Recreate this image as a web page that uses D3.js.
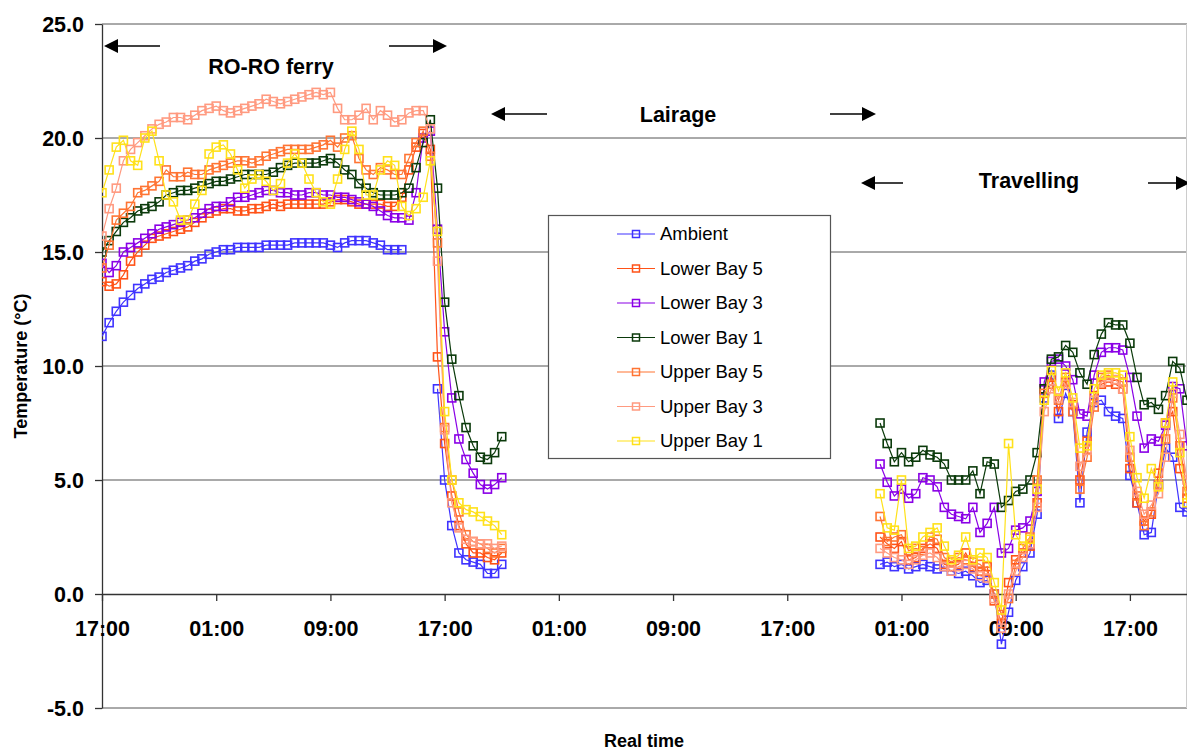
<!DOCTYPE html>
<meta charset="utf-8">
<style>
body { margin: 0; background: #fff; }
text { font-family: Arial, "Liberation Sans", sans-serif; fill: #000; }
.grid line { stroke: #555; stroke-width: 1px; }
.axis path, .axis line { stroke: #333; stroke-width: 1.3px; }
.tick-label { font-size: 21.5px; font-weight: bold; }
.note { font-size: 21.5px; font-weight: bold; }
.title { font-size: 18px; font-weight: bold; }
.legend text { font-size: 18.5px; }
.arrow { stroke: #000; stroke-width: 1.5px; }
</style>
<body>
<script src="https://cdn.jsdelivr.net/npm/d3@7"></script>
<script>
var width = 1187,
    height = 753;

var plot = {left: 102, right: 1187, top: 24, bottom: 708};

// time in hours after the first 17:00
var hours1 = d3.range(0, 28.01, 0.5);
var hours2 = d3.range(54.5, 76.01, 0.5);

var tickHours = [0, 8, 16, 24, 32, 40, 48, 56, 64, 72];
var tickLabels = ["17:00", "01:00", "09:00", "17:00", "01:00", "09:00", "17:00", "01:00", "09:00", "17:00"];
var yTicks = [-5, 0, 5, 10, 15, 20, 25];

var seriesNames = ["Ambient", "Lower Bay 5", "Lower Bay 3", "Lower Bay 1", "Upper Bay 5", "Upper Bay 3", "Upper Bay 1"];
var seriesColors = ["#3f33ff", "#ff5217", "#8a00e6", "#0b3a0b", "#ff7433", "#ff9a80", "#ffe11a"];

// RO-RO ferry leg and the drop after unloading
var ambient1 = [11.3, 11.9, 12.4, 12.8, 13.1, 13.4, 13.6, 13.8, 13.9, 14.1, 14.2, 14.3, 14.4, 14.6, 14.7, 14.9,
  15.0, 15.1, 15.1, 15.2, 15.2, 15.2, 15.2, 15.3, 15.3, 15.3, 15.3, 15.4, 15.4, 15.4, 15.4, 15.4, 15.3, 15.2,
  15.4, 15.5, 15.5, 15.5, 15.4, 15.3, 15.1, 15.1, 15.1, null, null, null, null, 9.0, 5.0, 3.0, 1.8, 1.5, 1.4,
  1.3, 0.9, 0.9, 1.3];
var lowerBay5_1 = [13.7, 13.5, 13.6, 14.0, 14.6, 15.0, 15.3, 15.6, 15.7, 15.8, 15.9, 16.0, 16.1, 16.3, 16.5, 16.7,
  16.8, 16.9, 16.9, 16.8, 16.8, 16.9, 16.9, 17.0, 17.1, 17.0, 17.1, 17.1, 17.1, 17.1, 17.1, 17.1, 17.2, 17.3,
  17.3, 17.2, 17.1, 17.1, 17.1, 17.1, 17.0, 17.0, 17.4, 18.6, 19.6, 20.2, 19.5, 10.4, 6.6, 4.3, 3.0, 2.2, 1.8,
  1.8, 1.6, 1.5, 1.8];
var lowerBay3_1 = [14.5, 14.1, 14.4, 15.0, 15.2, 15.4, 15.6, 15.8, 16.0, 16.1, 16.2, 16.3, 16.4, 16.5, 16.7, 16.9,
  17.0, 17.0, 17.2, 17.4, 17.4, 17.5, 17.6, 17.7, 17.7, 17.6, 17.6, 17.5, 17.5, 17.6, 17.6, 17.5, 17.5, 17.4,
  17.4, 17.3, 17.2, 17.1, 17.0, 16.8, 16.6, 16.5, 16.5, 16.4, 17.6, 20.0, 20.3, 16.0, 11.5, 8.6, 6.8, 5.9, 5.3,
  4.8, 4.6, 4.8, 5.1];
var lowerBay1_1 = [15.0, 15.5, 15.9, 16.3, 16.5, 16.8, 16.9, 17.0, 17.2, 17.5, 17.6, 17.7, 17.7, 17.8, 17.9, 18.0,
  18.1, 18.1, 18.2, 18.3, 18.4, 18.4, 18.4, 18.4, 18.5, 18.7, 18.8, 18.9, 18.9, 18.9, 18.9, 19.0, 19.1, 18.9,
  18.6, 18.4, 18.0, 17.8, 17.6, 17.5, 17.5, 17.5, 17.6, 17.8, 18.7, 19.8, 20.8, 17.8, 12.8, 10.3, 8.7, 7.3, 6.5,
  6.0, 5.9, 6.2, 6.9];
var upperBay5_1 = [14.3, 15.3, 16.4, 16.7, 17.0, 17.6, 17.7, 17.9, 18.1, 18.6, 18.3, 18.3, 18.5, 18.4, 18.4, 18.6,
  18.7, 18.8, 18.9, 19.0, 19.0, 18.9, 19.0, 19.2, 19.3, 19.4, 19.5, 19.5, 19.5, 19.5, 19.6, 19.7, 19.9, 19.6,
  20.0, 20.1, 19.1, 18.6, 18.4, 18.7, 18.6, 18.4, 18.4, 19.1, 19.8, 20.3, 19.2, 15.4, 7.3, 5.0, 3.6, 2.6, 2.3,
  2.2, 2.0, 1.8, 2.0];
var upperBay3_1 = [15.7, 16.9, 17.8, 19.0, 19.5, 19.8, 20.1, 20.4, 20.6, 20.7, 20.9, 20.9, 20.8, 21.0, 21.2, 21.3,
  21.4, 21.2, 21.1, 21.2, 21.3, 21.4, 21.5, 21.7, 21.6, 21.5, 21.6, 21.7, 21.8, 21.9, 22.0, 21.9, 22.0, 21.3,
  20.8, 20.8, 21.0, 21.3, 20.8, 21.2, 21.0, 20.7, 20.8, 21.1, 21.2, 21.2, 20.4, 14.6, 7.2, 4.0, 2.9, 2.4, 2.3,
  2.2, 2.2, 2.0, 2.1];
var upperBay1_1 = [17.6, 18.6, 19.6, 19.9, 19.0, 18.8, 20.0, 20.3, 19.0, 17.5, 17.2, 16.4, 16.4, 17.1, 17.7, 19.3,
  19.6, 19.7, 19.3, 18.6, 17.8, 18.2, 18.4, 18.1, 17.7, 18.0, 18.9, 19.3, 18.9, 18.2, 17.6, 17.2, 17.1, 18.2,
  19.5, 20.3, 19.5, 17.5, 17.5, 18.6, 19.0, 18.8, 17.0, 16.6, 16.9, 17.4, 19.0, 15.9, 8.0, 5.0, 4.0, 3.7, 3.6,
  3.4, 3.2, 3.0, 2.6];

// travelling leg
var ambient2 = [1.3, 1.4, 1.2, 1.3, 1.1, 1.2, 1.3, 1.2, 1.1, 1.2, 1.0, 0.9, 1.0, 0.8, 0.5, 0.6, 0.0, -2.2, -0.8,
  0.6, 1.2, 1.8, 3.5, 8.6, 9.6, 7.7, 8.8, 8.0, 4.0, 7.1, 8.4, 8.5, 8.0, 7.8, 7.7, 5.2, 4.0, 2.6, 2.7, 4.8, 6.4,
  6.0, 3.8, 3.6];
var lowerBay5_2 = [2.5, 2.2, 2.0, 2.3, 1.5, 1.6, 2.0, 2.2, 2.0, 1.3, 1.2, 1.3, 1.8, 1.2, 1.0, 1.2, -0.3, -1.3, 0.5,
  1.5, 1.8, 2.1, 4.0, 9.0, 9.5, 8.0, 9.3, 8.3, 5.0, 6.7, 8.7, 9.2, 9.3, 9.2, 9.0, 5.5, 4.0, 3.2, 3.5, 5.3, 7.5,
  8.0, 5.5, 4.2];
var lowerBay3_2 = [5.7, 4.9, 4.3, 4.6, 4.2, 4.4, 5.1, 5.0, 4.7, 3.8, 3.5, 3.4, 3.3, 3.8, 2.7, 3.1, 3.8, 1.8, 2.0,
  2.8, 2.9, 3.2, 4.5, 9.3, 10.2, 10.3, 10.0, 9.4, 7.9, 7.8, 9.6, 10.6, 10.8, 10.8, 10.7, 9.5, 7.8, 6.4, 6.8,
  6.7, 7.4, 9.1, 9.0, 6.5];
var lowerBay1_2 = [7.5, 6.6, 5.8, 6.2, 5.8, 6.0, 6.3, 6.1, 6.0, 5.7, 5.0, 5.0, 5.0, 5.4, 4.4, 5.8, 5.7, 3.8, 4.1,
  4.5, 4.6, 5.0, 6.2, 9.0, 10.3, 10.4, 10.9, 10.6, 9.7, 9.2, 10.5, 11.4, 11.9, 11.8, 11.8, 11.0, 9.5, 8.3, 8.4,
  8.1, 8.7, 10.2, 9.9, 8.5];
var upperBay5_2 = [3.4, 2.3, 2.5, 2.6, 1.9, 2.0, 1.9, 2.5, 2.4, 1.6, 1.4, 1.6, 1.5, 1.4, 1.3, 1.0, 0.0, -0.9, -0.2,
  1.3, 2.0, 2.5, 5.0, 8.8, 9.2, 8.5, 9.5, 8.0, 4.6, 6.0, 8.2, 9.5, 9.6, 9.4, 9.3, 6.0, 4.3, 3.0, 3.6, 4.8, 6.8,
  8.6, 6.5, 4.5];
var upperBay3_2 = [2.0, 1.8, 1.6, 1.5, 1.3, 1.5, 1.7, 1.8, 1.6, 1.2, 1.0, 1.2, 1.3, 1.1, 0.8, 0.7, -0.2, -1.5, 0.0,
  1.0, 1.6, 2.2, 3.8, 8.0, 9.0, 8.6, 9.2, 8.4, 5.6, 6.3, 8.5, 9.3, 9.5, 9.4, 9.0, 6.3, 4.5, 3.5, 3.9, 4.4, 6.0,
  8.8, 7.0, 5.0];
var upperBay1_2 = [4.4, 2.9, 2.8, 5.0, 2.0, 2.1, 2.5, 2.7, 2.9, 2.1, 1.5, 1.7, 2.5, 1.5, 1.8, 1.6, 0.5, -0.7, 6.6,
  2.6, 2.1, 2.4, 4.6, 8.5, 9.8, 8.9, 9.7, 8.6, 6.4, 6.5, 9.0, 9.6, 9.7, 9.7, 9.6, 6.9, 5.1, 4.2, 5.5, 4.7, 7.5,
  9.3, 6.2, 4.0];

var firstLeg = [ambient1, lowerBay5_1, lowerBay3_1, lowerBay1_1, upperBay5_1, upperBay3_1, upperBay1_1];
var secondLeg = [ambient2, lowerBay5_2, lowerBay3_2, lowerBay1_2, upperBay5_2, upperBay3_2, upperBay1_2];

var x = d3.scaleLinear().domain([0, 76]).range([plot.left, plot.right]);
var y = d3.scaleLinear().domain([-5, 25]).range([plot.bottom, plot.top]);

var svg = d3.select("body").append("svg")
    .attr("width", width)
    .attr("height", height);

svg.append("defs").append("clipPath")
    .attr("id", "clip")
  .append("rect")
    .attr("x", plot.left)
    .attr("y", plot.top - 6)
    .attr("width", plot.right - plot.left)
    .attr("height", plot.bottom - plot.top + 12);

// horizontal gridlines
svg.append("g")
    .attr("class", "grid")
  .selectAll("line")
  .data(yTicks.filter(function(d) { return d !== 0; }))
  .enter().append("line")
    .attr("x1", plot.left)
    .attr("x2", plot.right)
    .attr("y1", function(d) { return y(d); })
    .attr("y2", function(d) { return y(d); });

svg.append("line")
    .attr("x1", plot.right - 0.5).attr("x2", plot.right - 0.5)
    .attr("y1", plot.top).attr("y2", plot.bottom)
    .attr("stroke", "#ccc");

// y axis
var yAxis = svg.append("g")
    .attr("class", "axis")
    .attr("transform", "translate(" + plot.left + ",0)")
    .call(d3.axisLeft(y).tickValues(yTicks).tickSize(7).tickSizeOuter(0)
      .tickFormat(function(d) { return d.toFixed(1); }));
yAxis.attr("font-size", null).attr("font-family", null);
yAxis.selectAll("text")
    .attr("class", "tick-label")
    .attr("x", -18)
    .attr("dy", "0.36em");

// x axis at zero
var xAxis = svg.append("g")
    .attr("class", "axis")
    .attr("transform", "translate(0," + y(0) + ")")
    .call(d3.axisBottom(x).tickValues(tickHours).tickSize(7).tickSizeOuter(0)
      .tickFormat(function(d, i) { return tickLabels[i]; }));
xAxis.select(".domain").attr("d", "M" + plot.left + ",0.5H" + plot.right);
xAxis.attr("font-size", null).attr("font-family", null);
xAxis.selectAll("text")
    .attr("class", "tick-label")
    .attr("dy", "0.71em")
    .attr("y", 27);

// axis titles
svg.append("text")
    .attr("class", "title")
    .attr("transform", "translate(27," + y(10) + ") rotate(-90)")
    .attr("text-anchor", "middle")
    .text("Temperature (°C)");
svg.append("text")
    .attr("class", "title")
    .attr("x", 644)
    .attr("y", 747)
    .attr("text-anchor", "middle")
    .text("Real time");

// series
var line = d3.line()
    .defined(function(d) { return d.v !== null; })
    .x(function(d) { return x(d.h); })
    .y(function(d) { return y(d.v); });

var series = seriesNames.map(function(name, i) {
  return {
    name: name,
    color: seriesColors[i],
    legs: [
      hours1.map(function(h, j) { return {h: h, v: firstLeg[i][j]}; }),
      hours2.map(function(h, j) { return {h: h, v: secondLeg[i][j]}; })
    ]
  };
});

var plotG = svg.append("g").attr("clip-path", "url(#clip)");

series.forEach(function(s) {
  var g = plotG.append("g");
  g.selectAll("path")
    .data(s.legs)
    .enter().append("path")
      .attr("fill", "none")
      .attr("stroke", s.color)
      .attr("stroke-width", 1.2)
      .attr("d", line);
  var pts = s.legs[0].concat(s.legs[1]).filter(function(d) { return d.v !== null; });
  g.selectAll("rect")
    .data(pts)
    .enter().append("rect")
      .attr("x", function(d) { return x(d.h) - 4; })
      .attr("y", function(d) { return y(d.v) - 4; })
      .attr("width", 8)
      .attr("height", 8)
      .attr("fill", "none")
      .attr("stroke", s.color)
      .attr("stroke-width", 1.6);
});

// phase annotations
var notes = [
  {text: "RO-RO ferry", cx: 271, by: 74, ay: 46, left: [160, 104], right: [389, 447]},
  {text: "Lairage", cx: 678, by: 122, ay: 114, left: [547, 491], right: [830, 876]},
  {text: "Travelling", cx: 1029, by: 188, ay: 183, left: [903, 861], right: [1148, 1190]}
];

function arrow(x1, x2, yy) {
  var dir = x2 > x1 ? 1 : -1;
  svg.append("line")
      .attr("class", "arrow")
      .attr("x1", x1).attr("x2", x2 - dir * 12)
      .attr("y1", yy).attr("y2", yy);
  svg.append("path")
      .attr("d", "M" + x2 + "," + yy + "L" + (x2 - dir * 14) + "," + (yy - 7) + "L" + (x2 - dir * 14) + "," + (yy + 7) + "Z")
      .attr("fill", "#000");
}

notes.forEach(function(n) {
  svg.append("text")
      .attr("class", "note")
      .attr("x", n.cx)
      .attr("y", n.by)
      .attr("text-anchor", "middle")
      .text(n.text);
  arrow(n.left[0], n.left[1], n.ay);
  arrow(n.right[0], n.right[1], n.ay);
});

// legend
var legend = svg.append("g").attr("class", "legend");
legend.append("rect")
    .attr("x", 548.5)
    .attr("y", 215.5)
    .attr("width", 282)
    .attr("height", 243)
    .attr("fill", "#fff")
    .attr("stroke", "#555")
    .attr("stroke-width", 1.2);

var item = legend.selectAll(".item")
  .data(series)
  .enter().append("g")
    .attr("class", "item")
    .attr("transform", function(d, i) { return "translate(0," + (234 + i * 34.5) + ")"; });
item.append("line")
    .attr("x1", 617).attr("x2", 655)
    .attr("stroke", function(d) { return d.color; })
    .attr("stroke-width", 1.2);
item.append("rect")
    .attr("x", 632.5).attr("y", -3.5)
    .attr("width", 7).attr("height", 7)
    .attr("fill", "none")
    .attr("stroke", function(d) { return d.color; })
    .attr("stroke-width", 1.5);
item.append("text")
    .attr("x", 660)
    .attr("dy", "0.35em")
    .text(function(d) { return d.name; });
</script>
</body>
